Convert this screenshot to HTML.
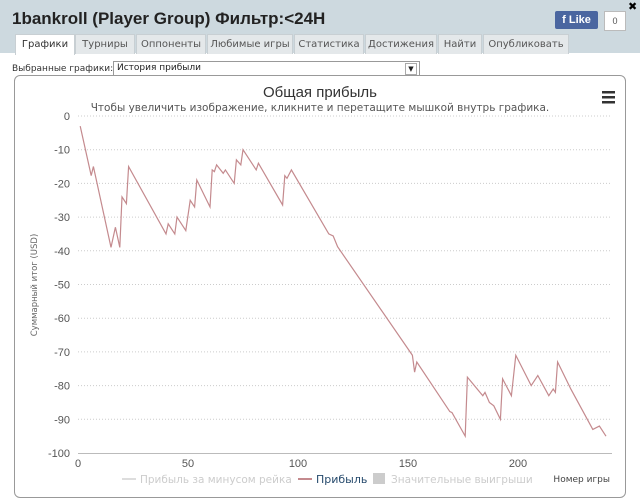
<!DOCTYPE html>
<html><head><meta charset="utf-8">
<style>
body{margin:0;width:640px;height:502px;overflow:hidden;background:#fff;font-family:"Liberation Sans","DejaVu Sans",sans-serif;position:relative}
#hdr{position:absolute;left:0;top:0;width:640px;height:53px;background:#cdd9df}
#ttl{position:absolute;left:12px;top:9px;font-size:17px;font-weight:bold;color:#222}
.tab{position:absolute;top:34px;height:19px;background:#e4e8ea;border:1px solid #c8cfd3;border-bottom:none;font-size:10px;color:#555;text-align:center;line-height:19px;font-family:"DejaVu Sans",sans-serif}
.tab.on{background:#fff;color:#333;height:20px}
#like{position:absolute;left:555px;top:11px;width:43px;height:18px;background:#4a66a0;border-radius:2px;color:#fff;font-size:11px;font-weight:bold;line-height:18px;text-align:center}
#cnt{position:absolute;left:604px;top:11px;width:20px;height:18px;background:#fff;border:1px solid #bbb;font-size:9px;line-height:18px;text-align:center;color:#555}
#lbl{position:absolute;left:12px;top:64px;font-size:9px;color:#333;font-family:"DejaVu Sans",sans-serif}
#sel{position:absolute;left:113px;top:61px;width:302px;height:13px;border:1px solid #999;font-size:9px;line-height:13px;padding-left:3px;color:#222;font-family:"DejaVu Sans",sans-serif}
#box{position:absolute;left:14px;top:75px;width:610px;height:421px;border:1px solid #999;border-radius:6px}
</style></head><body>
<div id="hdr"></div>
<div id="ttl">1bankroll (Player Group) Фильтр:&lt;24H</div>
<div id="like">f Like</div>
<div id="cnt">0</div>
<div style="position:absolute;left:628px;top:0;font-size:11px;font-weight:bold">✖</div>
<div class="tab on" style="left:15px;width:58px">Графики</div>
<div class="tab" style="left:75px;width:58px">Турниры</div>
<div class="tab" style="left:136px;width:68px">Оппоненты</div>
<div class="tab" style="left:207px;width:84px">Любимые игры</div>
<div class="tab" style="left:294px;width:68px">Статистика</div>
<div class="tab" style="left:365px;width:70px">Достижения</div>
<div class="tab" style="left:438px;width:42px">Найти</div>
<div class="tab" style="left:483px;width:84px">Опубликовать</div>
<div id="lbl">Выбранные графики:</div>
<div id="sel">История прибыли<span style="position:absolute;right:2px;top:1px;width:10px;height:10px;border:1px solid #aaa;font-size:7px;line-height:10px;text-align:center">▼</span></div>
<div id="box"></div>
<svg id="chart" width="640" height="502" style="position:absolute;left:0;top:0"></svg>
<script>
const games=[1,6,7,15,17,19,20,22,23,40,41,44,45,49,51,53,54,60,61,62,63,66,67,71,72,74,75,81,82,93,94,95,97,114,116,118,152,153,154,169,170,176,177,184,185,187,189,192,193,197,199,206,209,214,216,217,218,224,234,237,240];
const profit=[-3,-17.7,-15,-39,-33,-39,-24,-26,-15,-35,-32,-35,-30,-34,-25,-27,-19,-27,-16,-16.5,-14.5,-17,-16,-20,-13,-14.5,-10,-16,-14,-26.4,-17.7,-18.5,-16,-35,-35.6,-38.8,-71,-76,-73,-87.7,-88,-95,-77.5,-83,-82,-85,-86,-90,-78,-83,-71,-80,-77,-83,-81,-82,-73,-81,-93,-92,-95];
const yTicks=[0,-10,-20,-30,-40,-50,-60,-70,-80,-90,-100];
const xTicks=[0,50,100,150,200];
const NS="http://www.w3.org/2000/svg";
const svg=document.getElementById('chart');
const X=v=>78+v*2.2, Y=v=>116-v*3.37;
function mk(t,a,txt){const e=document.createElementNS(NS,t);for(const k in a)e.setAttribute(k,a[k]);if(txt!==undefined)e.textContent=txt;svg.appendChild(e);return e;}
yTicks.forEach(v=>{
 if(v>-100){const g=mk('line',{x1:78,x2:612,y1:Y(v),y2:Y(v),stroke:'#ccc','stroke-dasharray':'1,2'});
 
 }
 const t=mk('text',{x:70,y:Y(v)+4,'text-anchor':'end','font-size':'11','fill':'#555'},v);
 
 
});
const ax=mk('line',{x1:78,x2:612,y1:453.5,y2:453.5,stroke:'#bbb'});


xTicks.forEach(v=>{
 const t=mk('text',{x:X(v),y:467,'text-anchor':'middle','font-size':'11','fill':'#555'},v);
 
 
});
const pl=mk('polyline',{points:games.map((g,i)=>X(g)+','+Y(profit[i])).join(' '),fill:'none',stroke:'#c48a8e','stroke-width':'1.2'});


let e;
e=mk('text',{x:320,y:97,'text-anchor':'middle','font-size':'15','fill':'#333'},'Общая прибыль');


e=mk('text',{x:320,y:111,'text-anchor':'middle','font-size':'10.5','fill':'#555','font-family':'DejaVu Sans, sans-serif'},'Чтобы увеличить изображение, кликните и перетащите мышкой внутрь графика.');


e=mk('text',{x:37,y:285,'text-anchor':'middle','font-size':'8.5','fill':'#666',transform:'rotate(-90 37 285)','font-family':'DejaVu Sans, sans-serif'},'Суммарный итог (USD)');


e=mk('text',{x:610,y:482,'text-anchor':'end','font-size':'9','fill':'#444','font-family':'DejaVu Sans, sans-serif'},'Номер игры');


[[91,'#333'],[96,'#333'],[101,'#333']].forEach(r=>{const m=mk('rect',{x:602,y:r[0],width:13,height:2.5,fill:r[1]});

});
e=mk('line',{x1:122,x2:136,y1:479,y2:479,stroke:'#ddd','stroke-width':2});


e=mk('text',{x:140,y:483,'font-size':'10.5','fill':'#ccc','font-family':'DejaVu Sans, sans-serif'},'Прибыль за минусом рейка');


e=mk('line',{x1:298,x2:312,y1:479,y2:479,stroke:'#c48a8e','stroke-width':2});


e=mk('text',{x:316,y:483,'font-size':'11','fill':'#274b6d','font-family':'DejaVu Sans, sans-serif'},'Прибыль');


e=mk('rect',{x:373,y:473,width:12,height:11,fill:'#ccc'});


e=mk('text',{x:391,y:483,'font-size':'10.5','fill':'#ccc','font-family':'DejaVu Sans, sans-serif'},'Значительные выигрыши');


</script>
</body></html>
